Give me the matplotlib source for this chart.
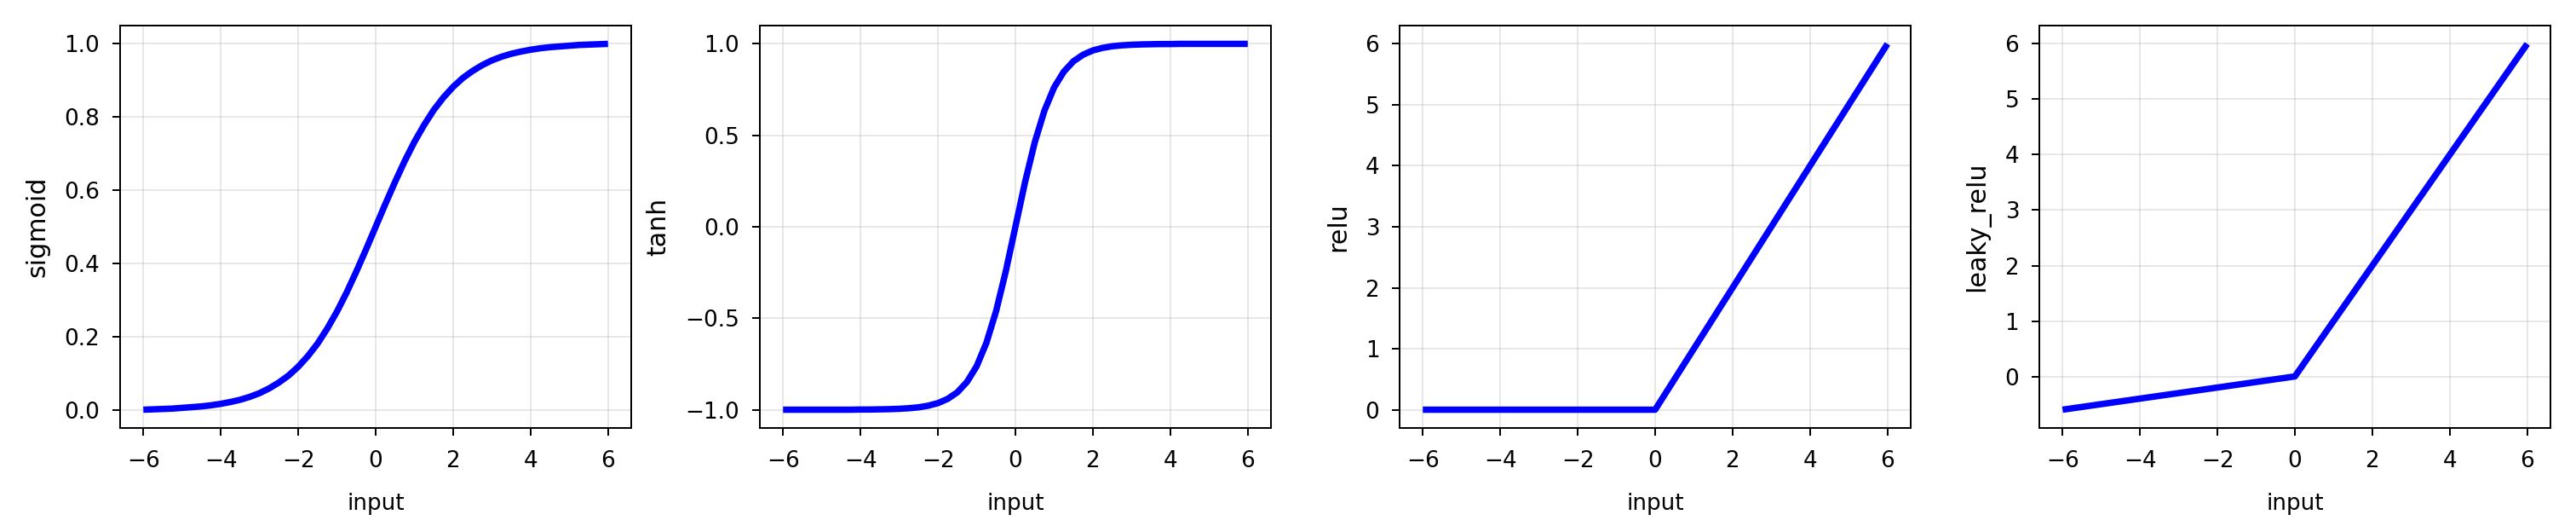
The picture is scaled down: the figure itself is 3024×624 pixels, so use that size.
import matplotlib
matplotlib.use("Agg")
import matplotlib.pyplot as plt

# x samples (input)
x = [-6.0, -5.75, -5.5, -5.25, -5.0, -4.75, -4.5, -4.25, -4.0, -3.75, -3.5, -3.25,
     -3.0, -2.75, -2.5, -2.25, -2.0, -1.75, -1.5, -1.25, -1.0, -0.75, -0.5, -0.25,
     0.0, 0.25, 0.5, 0.75, 1.0, 1.25, 1.5, 1.75, 2.0, 2.25, 2.5, 2.75, 3.0, 3.25,
     3.5, 3.75, 4.0, 4.25, 4.5, 4.75, 5.0, 5.25, 5.5, 5.75, 6.0]

sigmoid = [0.002, 0.003, 0.004, 0.005, 0.007, 0.009, 0.011, 0.014, 0.018, 0.023,
           0.029, 0.037, 0.047, 0.060, 0.076, 0.095, 0.119, 0.148, 0.182, 0.223,
           0.269, 0.321, 0.378, 0.438, 0.500, 0.562, 0.622, 0.679, 0.731, 0.777,
           0.818, 0.852, 0.881, 0.905, 0.924, 0.940, 0.953, 0.963, 0.971, 0.977,
           0.982, 0.986, 0.989, 0.991, 0.993, 0.995, 0.996, 0.997, 0.998]

tanh = [-1.000, -1.000, -1.000, -1.000, -1.000, -1.000, -1.000, -1.000, -0.999, -0.999,
        -0.998, -0.997, -0.995, -0.992, -0.987, -0.978, -0.964, -0.941, -0.905, -0.848,
        -0.762, -0.635, -0.462, -0.245, 0.000, 0.245, 0.462, 0.635, 0.762, 0.848,
        0.905, 0.941, 0.964, 0.978, 0.987, 0.992, 0.995, 0.997, 0.998, 0.999,
        0.999, 1.000, 1.000, 1.000, 1.000, 1.000, 1.000, 1.000, 1.000]

relu_x = [-6.0, 0.0, 6.0]
relu = [0.0, 0.0, 6.0]

leaky_x = [-6.0, 0.0, 6.0]
leaky_relu = [-0.6, 0.0, 6.0]

xticks = [-6, -4, -2, 0, 2, 4, 6]
tanh_yticks = [-1.0, -0.5, 0.0, 0.5, 1.0]

panels = [
    ("sigmoid", x, sigmoid, None),
    ("tanh", x, tanh, tanh_yticks),
    ("relu", relu_x, relu, None),
    ("leaky_relu", leaky_x, leaky_relu, None),
]

DPI = 180
fig, axes = plt.subplots(1, 4, figsize=(3024 / DPI, 624 / DPI), dpi=DPI)
fig.subplots_adjust(left=141 / 3024, right=2994 / 3024,
                    top=1 - 30 / 624, bottom=1 - 502 / 624,
                    wspace=151 / 600)
for ax, (name, xs, ys, yt) in zip(axes, panels):
    ax.plot(xs, ys, color="blue", linewidth=3, solid_capstyle="butt")
    ax.grid(True, alpha=0.3)
    ax.set_xlabel("input", fontsize=10.5, labelpad=9.5)
    ax.set_ylabel(name, fontsize=12, labelpad=7)
    ax.set_xticks(xticks)
    if yt is not None:
        ax.set_yticks(yt)
    ax.tick_params(axis="x", labelsize=10.5, pad=7)
    ax.tick_params(axis="y", labelsize=10.5, pad=6)

fig.savefig("out.png", dpi=DPI)
